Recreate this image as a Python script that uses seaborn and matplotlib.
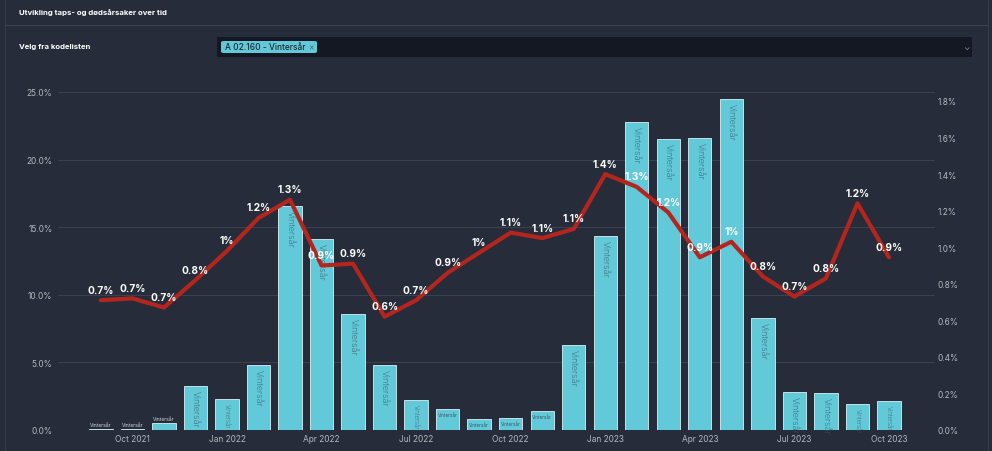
import pandas as pd
import seaborn as sns
import matplotlib.pyplot as plt
from matplotlib.patches import Rectangle, FancyBboxPatch

# monthly data, Sep 2021 - Oct 2023
months = ['Sep 2021', 'Oct 2021', 'Nov 2021', 'Dec 2021', 'Jan 2022', 'Feb 2022', 'Mar 2022',
          'Apr 2022', 'May 2022', 'Jun 2022', 'Jul 2022', 'Aug 2022', 'Sep 2022', 'Oct 2022',
          'Nov 2022', 'Dec 2022', 'Jan 2023', 'Feb 2023', 'Mar 2023', 'Apr 2023', 'May 2023',
          'Jun 2023', 'Jul 2023', 'Aug 2023', 'Sep 2023', 'Oct 2023']
share_pct = [0.05, 0.05, 0.52, 3.25, 2.29, 4.8, 16.55, 14.13, 8.58, 4.8, 2.22, 1.55, 0.81,
             0.89, 1.4, 6.29, 14.35, 22.8, 21.52, 21.6, 24.48, 8.28, 2.81, 2.74, 1.92, 2.14]
rate_pct = [0.71, 0.72, 0.67, 0.82, 0.98, 1.16, 1.26, 0.9, 0.91, 0.62, 0.71, 0.86, 0.97,
            1.08, 1.05, 1.1, 1.4, 1.33, 1.19, 0.945, 1.03, 0.84, 0.73, 0.83, 1.24, 0.945]
tick_labels = ['Oct 2021', 'Jan 2022', 'Apr 2022', 'Jul 2022', 'Oct 2022',
               'Jan 2023', 'Apr 2023', 'Jul 2023', 'Oct 2023']
code_label = 'Vintersår'

df = pd.DataFrame({'month': months, 'share': share_pct, 'rate': rate_pct})
df['pos'] = range(len(df))

BG = '#262c39'
BAR = '#62c9d9'
LINE = '#b4261d'
TICK = '#b4b8c0'
W, H = 992, 452

sns.set_theme(style="dark")
plt.rcParams['font.family'] = ['Inter', 'DejaVu Sans']

fig = plt.figure(figsize=(W / 100, H / 100), dpi=100)
fig.patch.set_facecolor(BG)


def fx(x):
    return x / W


def fy(y):
    return 1 - y / H


# header / panel decoration
fig.patches.append(Rectangle((fx(5), fy(452)), fx(983), fy(0) - fy(452), transform=fig.transFigure,
                             facecolor='none', edgecolor='#353c4a', lw=0.8))
fig.lines.append(plt.Line2D([fx(5), fx(988)], [fy(26), fy(26)], transform=fig.transFigure,
                            color='#3a4150', lw=0.8))
fig.text(fx(19), fy(13), 'Utvikling taps- og dødsårsaker over tid', color='white',
         fontsize=5.6, fontweight='bold', va='center')
fig.text(fx(19), fy(47), 'Velg fra kodelisten', color='white', fontsize=5.6,
         fontweight='bold', va='center')
fig.patches.append(Rectangle((fx(217), fy(58)), fx(755), fy(38) - fy(58), transform=fig.transFigure,
                             facecolor='#141822', edgecolor='none'))
fig.patches.append(FancyBboxPatch((fx(221), fy(54)), fx(96), fy(42) - fy(54),
                                  boxstyle='round,pad=0.0,rounding_size=0.003',
                                  transform=fig.transFigure, facecolor=BAR, edgecolor='none'))
fig.text(fx(225), fy(48), 'A 02.160 - Vintersår', color='#1d2a33', fontsize=6,
         fontweight='medium', va='center')
fig.text(fx(308), fy(48), '×', color='#4a6a75', fontsize=6, va='center')
fig.text(fx(966), fy(47), '⌄', color='#8a909c', fontsize=6, va='center', ha='center')

# main chart
ax = fig.add_axes([fx(58), fy(431), fx(935) - fx(58), fy(93) - fy(431)])
ax.set_facecolor(BG)
sns.barplot(data=df, x='pos', y='share', color=BAR, width=0.74, saturation=1,
            edgecolor='#d8f2f6', linewidth=0.6, ax=ax, native_scale=True)
ax.set_xlim(-1.36, 26.46)
ax.set_ylim(0, 25)
ax.set_yticks([0, 5, 10, 15, 20, 25])
ax.set_yticklabels([f'{v:.1f}%' for v in [0, 5, 10, 15, 20, 25]])
ax.set_xticks([df.loc[df['month'] == m, 'pos'].iloc[0] for m in tick_labels])
ax.set_xticklabels(tick_labels)
ax.grid(axis='y', color='#3b4251', lw=0.7)
ax.set_axisbelow(True)
ax.set_xlabel('')
ax.set_ylabel('')
for s in ax.spines.values():
    s.set_visible(False)
ax.tick_params(colors=TICK, labelsize=6, length=0, pad=3)
ax.tick_params(axis='y', pad=4)

# labels on bars
for p, v in zip(df['pos'], df['share']):
    if v < 0.6:
        ax.annotate(code_label, (p, v), xytext=(0, 1.5), textcoords='offset points',
                    ha='center', va='bottom', fontsize=3.6, color='#d0d4da')
    elif v < 1.6:
        ax.annotate(code_label, (p, v), xytext=(0, -2), textcoords='offset points',
                    ha='center', va='top', fontsize=3.3, color='#3a5862')
    else:
        fs = 4.4 if v < 2.3 else 6.5
        ax.annotate(code_label, (p, v), xytext=(0, -3), textcoords='offset points',
                    ha='center', va='top', rotation=-90, fontsize=fs, color='#3a5862',
                    fontweight='light')

# rate line on secondary axis
ax2 = ax.twinx()
sns.lineplot(data=df, x='pos', y='rate', color=LINE, lw=3, ax=ax2)
ax2.set_ylim(0, 1.8 * (431 - 93) / (431 - 102))
ax2.set_yticks([i / 10 for i in range(0, 19, 2)])
ax2.set_yticklabels([f'{i / 10:.1f}%' for i in range(0, 19, 2)])
ax2.grid(False)
ax2.set_ylabel('')
for s in ax2.spines.values():
    s.set_visible(False)
ax2.tick_params(colors=TICK, labelsize=6, length=0, pad=2)

for p, v in zip(df['pos'], df['rate']):
    ax2.annotate(f'{round(v, 1):g}%', (p, v), xytext=(0, 4), textcoords='offset points',
                 ha='center', va='bottom', fontsize=7.3, fontweight='bold', color='white')

fig.savefig('out.png', dpi=100, facecolor=BG)
